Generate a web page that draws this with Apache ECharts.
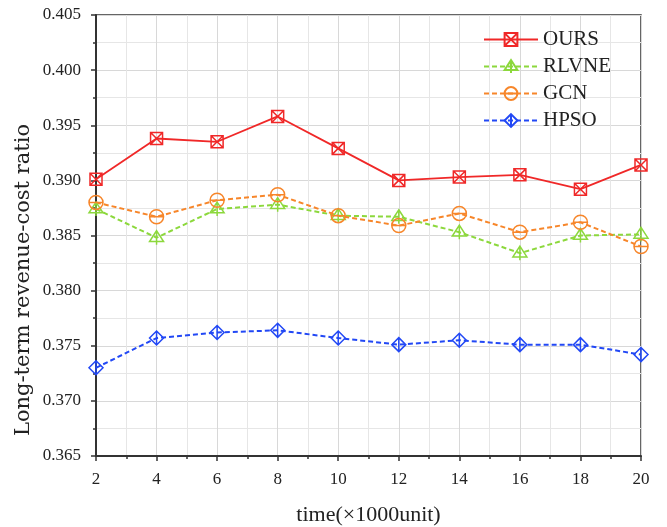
<!DOCTYPE html>
<html>
<head>
<meta charset="utf-8">
<script src="https://cdn.jsdelivr.net/npm/echarts@6/dist/echarts.min.js"></script>
<style>html,body{margin:0;padding:0;background:#fff}#c{width:667px;height:527px}</style>
</head>
<body>
<div id="c"></div>
<script>
var xValues = [2, 4, 6, 8, 10, 12, 14, 16, 18, 20];
var ours  = [0.3901, 0.3938, 0.3935, 0.3958, 0.3929, 0.3900, 0.3903, 0.3905, 0.3892, 0.3914];
var rlvne = [0.3874, 0.3848, 0.3874, 0.3878, 0.3868, 0.3867, 0.3853, 0.3834, 0.3850, 0.3851];
var gcn   = [0.3880, 0.3867, 0.3882, 0.3887, 0.3868, 0.3859, 0.3870, 0.3853, 0.3862, 0.3840];
var hpso  = [0.3730, 0.3757, 0.3762, 0.3764, 0.3757, 0.3751, 0.3755, 0.3751, 0.3751, 0.3742];
var seriesNames = ['OURS', 'RLVNE', 'GCN', 'HPSO'];
var xAxisTitle = 'time(×1000unit)';
var yAxisTitle = 'Long-term revenue-cost ratio';

function pairs(arr){ return xValues.map(function(x,i){ return [x, arr[i]]; }); }

var FONT = '"Liberation Serif", "Times New Roman", serif';
var symSquareX = 'path://M0,0L10,0L10,10L0,10Z M0,0L10,10 M10,0L0,10';
var symTri = 'path://M5,0L10,8.5L0,8.5Z M5,0L5,11';
var symCircle = 'path://M0,5A5,5,0,1,1,10,5A5,5,0,1,1,0,5Z M0,5L10,5';
var symDiamond = 'path://M5,0L10,5L5,10L0,5Z M5,0L5,10';

function mk(name, data, color, symbol, size, dashed){
  return {
    name: name, type: 'line', data: pairs(data),
    symbol: symbol, symbolSize: size,
    lineStyle: { color: color, width: dashed ? 2 : 1.8, type: dashed ? [5, 3] : 'solid' },
    itemStyle: { color: 'rgba(255,255,255,0)', borderColor: color, borderWidth: 1.5 },
    emphasis: { disabled: true },
    z: 3
  };
}

var chart = echarts.init(document.getElementById('c'), null, { renderer: 'canvas' });
chart.setOption({
  backgroundColor: '#fff',
  animation: false,
  grid: { left: 96, right: 26, top: 15, bottom: 71, show: true, borderColor: '#333', borderWidth: 1.5, backgroundColor: 'transparent', containLabel: false, outerBoundsMode: 'none' },
  legend: {
    data: seriesNames,
    orient: 'vertical',
    top: 29, left: 483, padding: 0,
    itemWidth: 54, itemHeight: 16, itemGap: 6,
    textStyle: { fontFamily: FONT, fontSize: 21, lineHeight: 21, color: '#222' }
  },
  graphic: [{
    type: 'text', x: 24, y: 280, rotation: Math.PI / 2, silent: true,
    style: { text: yAxisTitle, fontFamily: '"DejaVu Serif", serif', fontSize: 21, fill: '#222', align: 'center', verticalAlign: 'middle' }
  }],
  xAxis: {
    type: 'value', min: 2, max: 20, interval: 2,
    name: xAxisTitle, nameLocation: 'middle', nameGap: 48,
    nameTextStyle: { fontFamily: FONT, fontSize: 22, color: '#222' },
    axisLine: { show: true, onZero: false, lineStyle: { color: '#333', width: 2 } },
    axisTick: { show: true, length: 5, lineStyle: { color: '#333', width: 1.5 } },
    minorTick: { show: true, splitNumber: 2, length: 3, lineStyle: { color: '#333', width: 1.5 } },
    axisLabel: { fontFamily: FONT, fontSize: 17, color: '#222', margin: 15 },
    splitLine: { show: true, lineStyle: { color: '#d8d8d8', width: 1 } },
    minorSplitLine: { show: true, lineStyle: { color: '#e6e6e6', width: 1 } }
  },
  yAxis: {
    type: 'value', min: 0.365, max: 0.405, interval: 0.005,
    axisLine: { show: true, onZero: false, lineStyle: { color: '#333', width: 2 } },
    axisTick: { show: true, length: 5, lineStyle: { color: '#333', width: 1.5 } },
    minorTick: { show: true, splitNumber: 2, length: 3, lineStyle: { color: '#333', width: 1.5 } },
    axisLabel: { fontFamily: FONT, fontSize: 17, color: '#222', margin: 15, formatter: function(v){ return v.toFixed(3); } },
    splitLine: { show: true, lineStyle: { color: '#d8d8d8', width: 1 } },
    minorSplitLine: { show: true, lineStyle: { color: '#e6e6e6', width: 1 } }
  },
  series: [
    mk(seriesNames[0], ours, '#f02828', symSquareX, 12, false),
    mk(seriesNames[1], rlvne, '#8cd83c', symTri, 14, true),
    mk(seriesNames[2], gcn, '#f7862a', symCircle, 14, true),
    mk(seriesNames[3], hpso, '#2248f5', symDiamond, 14, true)
  ]
});
</script>
</body>
</html>
